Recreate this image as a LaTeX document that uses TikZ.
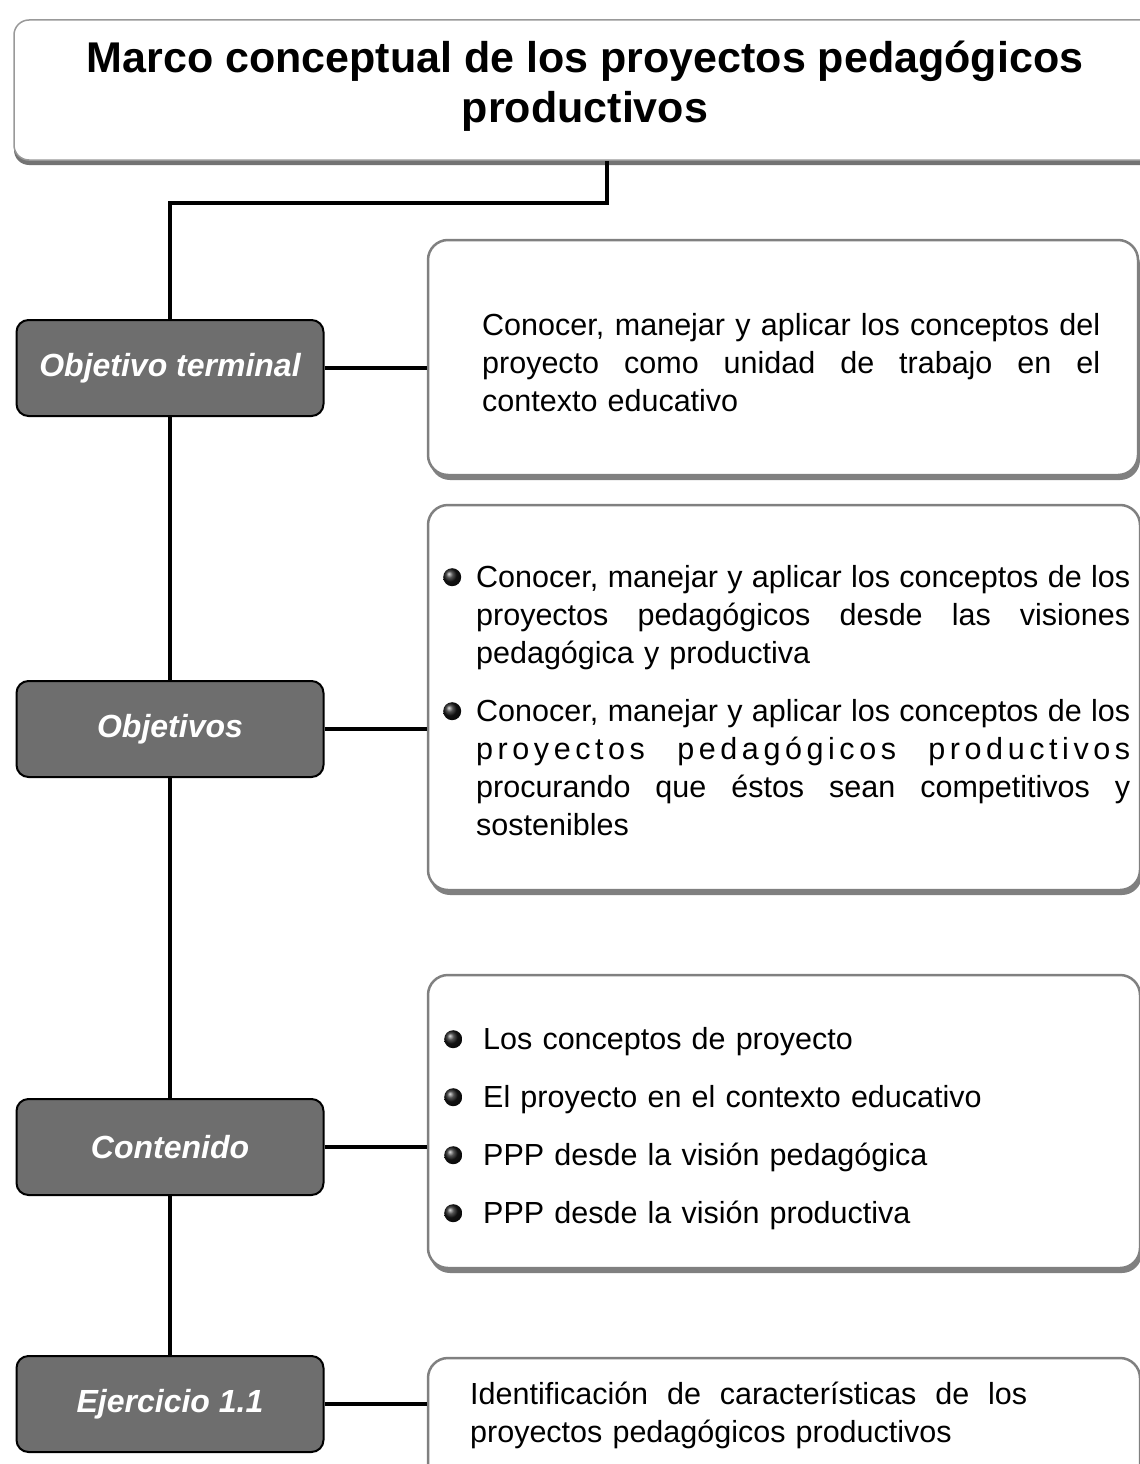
\documentclass[tikz,border=0pt]{standalone}
\usepackage{fontspec}
\setmainfont{Liberation Sans}
\newfontfamily\bodyfont{Liberation Sans}
\usetikzlibrary{shadows}
\newcommand\ballbullet{\tikz[x=1pt,y=1pt,baseline=-10pt]\shade[ball color=black!90] (0,0) circle (9pt);}
\newcommand\jline[2]{\hbox to #1{\spaceskip=\fontdimen2\font plus 1fil\relax\rule{0pt}{24pt}#2}\par}
\newcommand\lline[1]{\hbox{\rule{0pt}{24pt}#1}\par}
\newcommand\bitem{\llap{\ballbullet\hspace{15pt}}}
\newcommand\citem{\llap{\ballbullet\hspace{21pt}}}
\tikzset{
  conn/.style={line width=4pt, black},
  lbox/.style={draw=black, line width=2pt, fill=black!57, rounded corners=12pt,
    minimum width=307pt, minimum height=96pt, text=white,
    font=\bfseries\itshape\fontsize{32}{38}\selectfont},
  rbox/.style={draw=black!50, line width=2.5pt, fill=white, rounded corners=20pt,
    drop shadow={shadow xshift=2pt, shadow yshift=-5pt, fill=black!50, opacity=1}},
  tbox/.style={draw=black!40, line width=1.5pt, fill=white, rounded corners=15pt,
    drop shadow={shadow xshift=0pt, shadow yshift=-5pt, fill=black!55, opacity=1}},
  txt/.style={anchor=north west, inner sep=0pt,
    font=\bodyfont\fontsize{30.5}{38}\selectfont,
    execute at begin node={\setlength{\parindent}{0pt}\setlength{\parskip}{0pt}}},
}
\begin{document}
\begin{tikzpicture}[x=1pt,y=-1pt]
\useasboundingbox (0,0) rectangle (1140,1464);
\fill[white] (0,0) rectangle (1140,1464);

% title
\node[tbox, minimum width=1142pt, minimum height=140pt] (title) at (585,90) {};
\node[inner sep=0pt, anchor=north, align=center,
      font=\bfseries\fontsize{43}{50}\selectfont] (titletext) at (585,41)
      {Marco conceptual de los proyectos pedagógicos\\productivos};

% left boxes
\node[lbox] (ot) at (170,368) {Objetivo terminal};
\node[lbox] (obj) at (170,729) {Objetivos};
\node[lbox] (cont) at (170,1147) {Contenido};
\node[lbox] (ej) at (170,1404) {Ejercicio 1.1};

% right boxes
\node[rbox, minimum width=710pt, minimum height=235pt] (b1) at (783,357.5) {};
\node[rbox, minimum width=712pt, minimum height=385pt] (b2) at (784,697.5) {};
\node[rbox, minimum width=712pt, minimum height=293pt] (b3) at (784,1121.5) {};
\node[rbox, minimum width=712pt, minimum height=140pt] (b4) at (784,1428) {};

% connectors
\coordinate (tdrop) at (607,203);
\coordinate (bend) at (170,203);
\draw[conn] (title.south -| tdrop) -- (tdrop) -- (bend) -- (ot.north);
\draw[conn] (ot.south) -- (obj.north);
\draw[conn] (obj.south) -- (cont.north);
\draw[conn] (cont.south) -- (ej.north);
\draw[conn] (ot.east) -- (ot.east -| b1.west);
\draw[conn] (obj.east) -- (obj.east -| b2.west);
\draw[conn] (cont.east) -- (cont.east -| b3.west);
\draw[conn] (ej.east) -- (ej.east -| b4.west);

% texts
\node[txt, text width=618pt] (t1) at (482,311) {%
\jline{618pt}{Conocer, manejar y aplicar los conceptos del}
\jline{618pt}{proyecto como unidad de trabajo en el}
\lline{contexto educativo}};

\node[txt, text width=654pt] (t2) at (476,563) {%
\jline{654pt}{\bitem Conocer, manejar y aplicar los conceptos de los}
\jline{654pt}{proyectos pedagógicos desde las visiones}
\lline{pedagógica y productiva}
\vspace{20pt}
\jline{654pt}{\bitem Conocer, manejar y aplicar los conceptos de los}
\jline{654pt}{\addfontfeature{LetterSpace=15}proyectos pedagógicos productivos}
\jline{654pt}{procurando que éstos sean competitivos y}
\lline{sostenibles}};

\node[txt, text width=620pt] (t3) at (483,1025) {%
\lline{\citem Los conceptos de proyecto}
\vspace{20pt}
\lline{\citem El proyecto en el contexto educativo}
\vspace{20pt}
\lline{\citem PPP desde la visión pedagógica}
\vspace{20pt}
\lline{\citem PPP desde la visión productiva}};

\node[txt, text width=557pt] (t4) at (470,1380) {%
\jline{557pt}{Identificación de características de los}
\lline{proyectos pedagógicos productivos}};
\end{tikzpicture}
\end{document}
